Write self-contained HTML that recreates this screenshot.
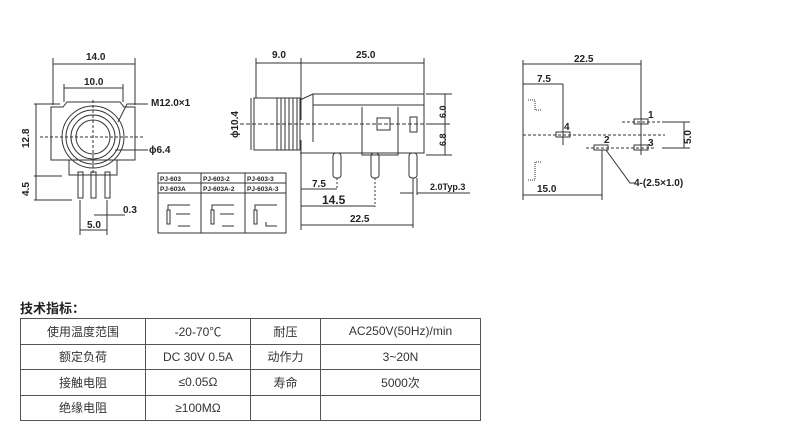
<!DOCTYPE html>
<html><head><meta charset="utf-8"><style>
body{margin:0;background:#fff;width:789px;height:439px;overflow:hidden;position:relative;font-family:"Liberation Sans","Noto Sans CJK SC",sans-serif}
svg{position:absolute;left:0;top:0}
.t{font-family:"Liberation Sans",Arial,sans-serif;font-weight:bold;fill:#222}
table{position:absolute;left:20px;top:318px;border-collapse:collapse;font-size:12px;color:#333}
td{border:1px solid #555;height:24.5px;text-align:center;padding:0}
h4{position:absolute;left:20px;top:298px;margin:0;font-size:13px;font-weight:bold;color:#222}
</style></head><body>
<svg width="789" height="290" viewBox="0 0 789 290">
<g stroke="#333" stroke-width="1" fill="none">
<line x1="53" y1="64" x2="135" y2="64"/><line x1="53" y1="58" x2="53" y2="105"/><line x1="135" y1="58" x2="135" y2="105"/>
<line x1="64" y1="88" x2="123" y2="88"/><line x1="64" y1="84" x2="64" y2="102"/><line x1="123" y1="84" x2="123" y2="102"/>
<path d="M51 107 L63 107 L67 102 L120 102 L124 107 L135 107 L135 160 L51 160 Z"/>
<circle cx="93" cy="137" r="31"/><circle cx="93" cy="137" r="27"/><circle cx="93" cy="137" r="22"/><circle cx="93" cy="137" r="17"/>
<line x1="40" y1="137" x2="145" y2="137" stroke-dasharray="3,2"/><line x1="93" y1="100" x2="93" y2="175" stroke-dasharray="3,2"/>
<path d="M69 160 L69 175 L117 175 L117 160"/>
<rect x="78" y="172" width="5" height="26"/><rect x="91" y="172" width="5" height="26"/><rect x="105" y="172" width="5" height="26"/>
<line x1="34" y1="104" x2="60" y2="104"/><line x1="36" y1="104" x2="36" y2="200"/><line x1="34" y1="176" x2="62" y2="176"/><line x1="34" y1="200" x2="72" y2="200"/>
<line x1="80" y1="200" x2="80" y2="235"/><line x1="107" y1="200" x2="107" y2="235"/><line x1="80" y1="230" x2="107" y2="230"/>
<line x1="94" y1="215" x2="125" y2="215"/>
<line x1="127" y1="104" x2="148" y2="104"/><line x1="127" y1="104" x2="118" y2="122"/>
<line x1="115" y1="150" x2="148" y2="150"/>
<rect x="158" y="173" width="128" height="60"/><line x1="158" y1="183" x2="286" y2="183"/><line x1="158" y1="193" x2="286" y2="193"/>
<line x1="201" y1="173" x2="201" y2="233"/><line x1="245" y1="173" x2="245" y2="233"/>
<rect x="167" y="210" width="3" height="14"/><rect x="211" y="210" width="3" height="14"/><rect x="254" y="210" width="3" height="14"/>
<path d="M168 210 V205 H190 M176 214 H190 M178 226 H190"/><path d="M212 210 V205 H234 M220 214 H234 M222 226 H234"/><path d="M255 210 V205 H277 M266 222 V226 H277"/>
<line x1="256" y1="63" x2="301" y2="63"/><line x1="301" y1="63" x2="424" y2="63"/>
<line x1="256" y1="58" x2="256" y2="98"/><line x1="301" y1="58" x2="301" y2="120"/><line x1="424" y1="58" x2="424" y2="94"/>
<rect x="254" y="98" width="46" height="52"/>
<path d="M277 98V150M281 98V150M285 98V150M289 98V150M293 98V150M297 98V150"/>
<path d="M300 100 L313 94 L424 94 L424 153 L300 153"/><line x1="313" y1="94" x2="313" y2="142"/><line x1="313" y1="105" x2="424" y2="105"/>
<path d="M362 107 V155 H375 M398 107 V155 H375"/><rect x="377" y="118" width="13" height="12"/><rect x="410" y="117" width="7" height="15"/>
<line x1="240" y1="124" x2="430" y2="124" stroke-dasharray="4,2"/>
<rect x="333" y="153" width="8" height="25" rx="3"/><rect x="371" y="153" width="8" height="25" rx="3"/><rect x="409" y="153" width="8" height="25" rx="3"/>
<line x1="251" y1="98" x2="251" y2="150"/>
<line x1="426" y1="94" x2="452" y2="94"/><line x1="426" y1="155" x2="452" y2="155"/><line x1="445" y1="94" x2="445" y2="155"/><line x1="430" y1="124" x2="450" y2="124"/>
<line x1="301" y1="140" x2="301" y2="230"/><line x1="337" y1="178" x2="337" y2="190" stroke-dasharray="2,2"/><line x1="375" y1="178" x2="375" y2="207" stroke-dasharray="2,2"/><line x1="413" y1="178" x2="413" y2="228"/><line x1="417" y1="178" x2="417" y2="195"/>
<line x1="301" y1="189" x2="337" y2="189"/><line x1="301" y1="206" x2="375" y2="206"/><line x1="301" y1="225" x2="413" y2="225"/>
<line x1="400" y1="193" x2="413" y2="193"/><line x1="417" y1="193" x2="470" y2="193"/>
<line x1="523" y1="64" x2="641" y2="64"/><line x1="523" y1="60" x2="523" y2="200"/><line x1="641" y1="60" x2="641" y2="155"/>
<line x1="523" y1="84" x2="563" y2="84"/><line x1="563" y1="84" x2="563" y2="145"/>
<path d="M528 100 H535 V110 H541 M528 180 H535 V162 H541" stroke-dasharray="1,1"/>
<line x1="523" y1="135" x2="665" y2="135" stroke-dasharray="3,2"/>
<line x1="622" y1="122" x2="660" y2="122" stroke-dasharray="3,2"/><line x1="586" y1="148" x2="655" y2="148" stroke-dasharray="3,2"/>
<rect x="556" y="132" width="14" height="5"/><rect x="634" y="119" width="14" height="5"/><rect x="594" y="145" width="14" height="5"/><rect x="634" y="145" width="14" height="5"/>
<line x1="662" y1="122" x2="690" y2="122"/><line x1="662" y1="148" x2="690" y2="148"/><line x1="684" y1="122" x2="684" y2="148"/>
<line x1="602" y1="150" x2="602" y2="200"/><line x1="523" y1="195" x2="602" y2="195"/>
<path d="M606 150 L630 183 L635 183"/>
</g>
<g class="t" font-size="10">
<text x="86" y="60">14.0</text><text x="84" y="85">10.0</text><text x="151" y="106">M12.0×1</text><text x="149" y="153">ϕ6.4</text>
<text x="29" y="148" transform="rotate(-90 29 148)">12.8</text><text x="29" y="196" transform="rotate(-90 29 196)">4.5</text>
<text x="123" y="213">0.3</text><text x="87" y="228">5.0</text>
<text x="272" y="58">9.0</text><text x="356" y="58">25.0</text><text x="238" y="138" transform="rotate(-90 238 138)">ϕ10.4</text>
<text x="446" y="118" transform="rotate(-90 446 118)" font-size="9">6.0</text><text x="446" y="146" transform="rotate(-90 446 146)" font-size="9">6.8</text>
<text x="312" y="187">7.5</text><text x="322" y="204" font-size="12">14.5</text><text x="350" y="222">22.5</text><text x="430" y="190" font-size="9">2.0Typ.3</text>
<text x="574" y="62">22.5</text><text x="537" y="82">7.5</text><text x="537" y="192">15.0</text>
<text x="648" y="118">1</text><text x="648" y="146">3</text><text x="564" y="130">4</text><text x="604" y="143">2</text>
<text x="677" y="140" transform="rotate(-90 686 135)">5.0</text><text x="634" y="186">4-(2.5×1.0)</text>
</g>
<g class="t" font-size="6.5">
<text x="160" y="181">PJ-603</text><text x="203" y="181">PJ-603-2</text><text x="247" y="181">PJ-603-3</text>
<text x="160" y="191">PJ-603A</text><text x="203" y="191">PJ-603A-2</text><text x="247" y="191">PJ-603A-3</text>
</g>
</svg>
<h4>技术指标：</h4>
<table>
<tr><td style="width:124px">使用温度范围</td><td style="width:104px">-20-70℃</td><td style="width:69px">耐压</td><td style="width:159px">AC250V(50Hz)/min</td></tr>
<tr><td>额定负荷</td><td>DC 30V 0.5A</td><td>动作力</td><td>3~20N</td></tr>
<tr><td>接触电阻</td><td>≤0.05Ω</td><td>寿命</td><td>5000次</td></tr>
<tr><td>绝缘电阻</td><td>≥100MΩ</td><td></td><td></td></tr>
</table>
</body></html>
